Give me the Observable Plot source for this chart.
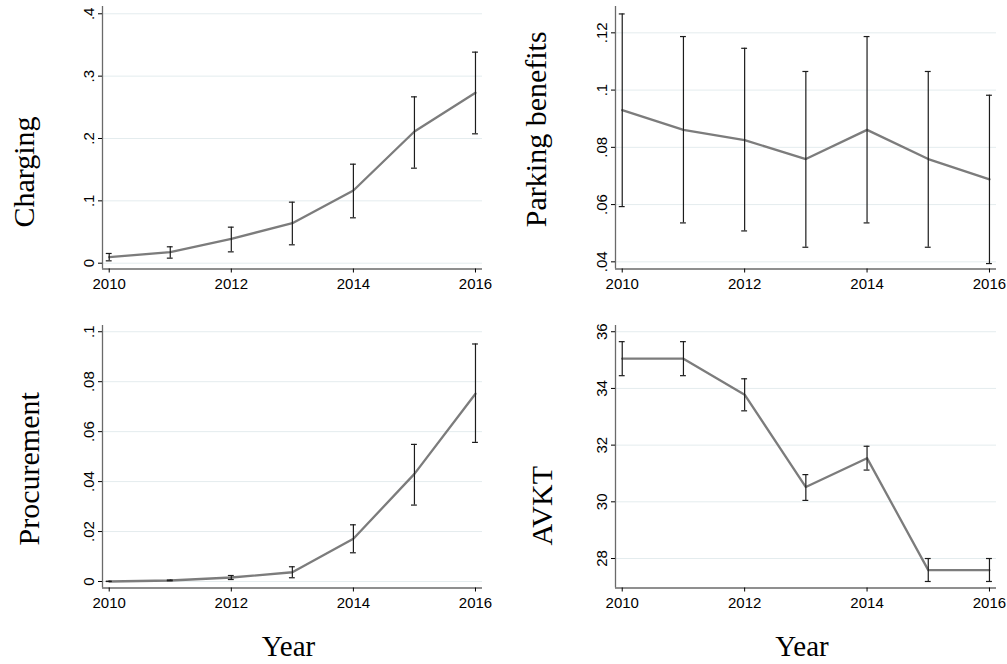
<!DOCTYPE html>
<html>
<head>
<meta charset="utf-8">
<script src="https://cdn.jsdelivr.net/npm/d3@7"></script>
<script src="https://cdn.jsdelivr.net/npm/@observablehq/plot@0.6"></script>
<style>
  html, body { margin: 0; padding: 0; background: #ffffff; }
  #wrap { position: relative; width: 1007px; height: 664px; background: #ffffff; overflow: hidden; }
  .panel { position: absolute; }
  .panel svg { overflow: visible; }
</style>
</head>
<body>
<div id="wrap">
  <div class="panel" id="p1" style="left:0px;top:0px"></div>
  <div class="panel" id="p2" style="left:503px;top:0px"></div>
  <div class="panel" id="p3" style="left:0px;top:310px"></div>
  <div class="panel" id="p4" style="left:503px;top:310px"></div>
</div>
<script>
// ---- data ----
const years = [2010, 2011, 2012, 2013, 2014, 2015, 2016];
const xTicks = [2010, 2012, 2014, 2016];

const chargingMean = [0.0097, 0.0177, 0.0391, 0.0642, 0.1166, 0.2112, 0.2733];
const chargingLo   = [0.0038, 0.0081, 0.0182, 0.0295, 0.0728, 0.1524, 0.2075];
const chargingHi   = [0.0156, 0.0263, 0.0578, 0.0979, 0.1588, 0.2668, 0.3385];
const chargingTicks = [0, 0.1, 0.2, 0.3, 0.4];

const parkingMean = [0.0930, 0.0861, 0.0825, 0.0759, 0.0861, 0.0759, 0.0688];
const parkingLo   = [0.0593, 0.0536, 0.0508, 0.0451, 0.0536, 0.0451, 0.0394];
const parkingHi   = [0.1266, 0.1187, 0.1146, 0.1065, 0.1187, 0.1065, 0.0982];
const parkingTicks = [0.04, 0.06, 0.08, 0.10, 0.12];

const procMean = [0.0000, 0.0004, 0.0016, 0.0037, 0.0171, 0.0431, 0.0752];
const procLo   = [0.0000, 0.0003, 0.0008, 0.0015, 0.0115, 0.0306, 0.0557];
const procHi   = [0.0001, 0.0006, 0.0024, 0.0059, 0.0227, 0.0549, 0.0951];
const procTicks = [0, 0.02, 0.04, 0.06, 0.08, 0.1];

const avktMean = [35.05, 35.05, 33.78, 30.52, 31.54, 27.59, 27.59];
const avktLo   = [34.45, 34.45, 33.21, 30.05, 31.12, 27.19, 27.19];
const avktHi   = [35.65, 35.65, 34.34, 30.96, 31.96, 28.00, 28.00];
const avktTicks = [28, 30, 32, 34, 36];

const yLabels = ["Charging", "Parking benefits", "Procurement", "AVKT"];
const xLabel = "Year";

// ---- drawing ----
const xDomain = [2009.89, 2016.115];
const serif = "'Liberation Serif', 'Times New Roman', serif";
const sans = "'Liberation Sans', Arial, Helvetica, sans-serif";

function fmtY(d) {
  if (d === 0) return "0";
  let s = String(+d.toFixed(4));
  return s.replace(/^0\./, ".");
}

function panel(opts) {
  const {id, mean, lo, hi, ticks, yDomain, label, width, height, margin, labelDx, labelDy, showX} = opts;
  const data = years.map((y, i) => ({year: y, mean: mean[i], lo: lo[i], hi: hi[i]}));
  const marks = [
    Plot.ruleY(ticks, {stroke: "#e4ecee", strokeWidth: 1}),
    Plot.ruleX([xDomain[0]], {stroke: "#6a6a6a", strokeWidth: 1.3}),
    Plot.ruleY([yDomain[0]], {stroke: "#6a6a6a", strokeWidth: 1.3}),
    Plot.axisY({ticks, tickSize: 4, tickRotate: -90, tickFormat: fmtY, label: null, fontSize: 15}),
    Plot.axisX({ticks: xTicks, tickSize: 4, tickFormat: d => String(d), label: null, fontSize: 15}),
    Plot.line(data, {x: "year", y: "mean", stroke: "#7c7c7c", strokeWidth: 2.3}),
    Plot.ruleX(data, {x: "year", y1: "lo", y2: "hi", stroke: "#1c1c1c", strokeWidth: 1.2}),
    Plot.ruleY(data, {y: "lo", x1: d => d.year - 0.048, x2: d => d.year + 0.048, stroke: "#1c1c1c", strokeWidth: 1.2}),
    Plot.ruleY(data, {y: "hi", x1: d => d.year - 0.048, x2: d => d.year + 0.048, stroke: "#1c1c1c", strokeWidth: 1.2}),
    Plot.text([label], {text: d => d, frameAnchor: "bottom-left", rotate: -90, textAnchor: "start", lineAnchor: "middle",
      dx: labelDx, dy: labelDy, fontSize: 30, fontFamily: serif, fill: "#000"})
  ];
  if (showX) {
    marks.push(Plot.text([xLabel], {text: d => d, frameAnchor: "bottom", lineAnchor: "bottom", dx: -4, dy: 67.5,
      fontSize: 29, fontFamily: serif, fill: "#000"}));
  }
  const chart = Plot.plot({
    width, height,
    marginLeft: margin[0], marginRight: margin[1], marginTop: margin[2], marginBottom: margin[3],
    x: {domain: xDomain},
    y: {domain: yDomain},
    style: {fontFamily: sans, fontSize: "15px", color: "#000", background: "transparent", overflow: "visible"},
    marks
  });
  document.getElementById(id).appendChild(chart);
}

panel({id: "p1", mean: chargingMean, lo: chargingLo, hi: chargingHi, ticks: chargingTicks,
  yDomain: [-0.0093, 0.4117], label: yLabels[0], width: 503, height: 310,
  margin: [102, 21, 6, 41.5], labelDx: -78.5, labelDy: -41.5, showX: false});

panel({id: "p2", mean: parkingMean, lo: parkingLo, hi: parkingHi, ticks: parkingTicks,
  yDomain: [0.0375, 0.1292], label: yLabels[1], width: 504, height: 310,
  margin: [112, 11, 6, 41.5], labelDx: -79.6, labelDy: -41.8, showX: false});

panel({id: "p3", mean: procMean, lo: procLo, hi: procHi, ticks: procTicks,
  yDomain: [-0.0026, 0.1025], label: yLabels[2], width: 503, height: 354,
  margin: [102, 21, 15, 76.5], labelDx: -73.3, labelDy: -42.5, showX: true});

panel({id: "p4", mean: avktMean, lo: avktLo, hi: avktHi, ticks: avktTicks,
  yDomain: [26.96, 36.22], label: yLabels[3], width: 504, height: 354,
  margin: [112, 11, 15, 76.5], labelDx: -73, labelDy: -42.5, showX: true});
</script>
</body>
</html>
